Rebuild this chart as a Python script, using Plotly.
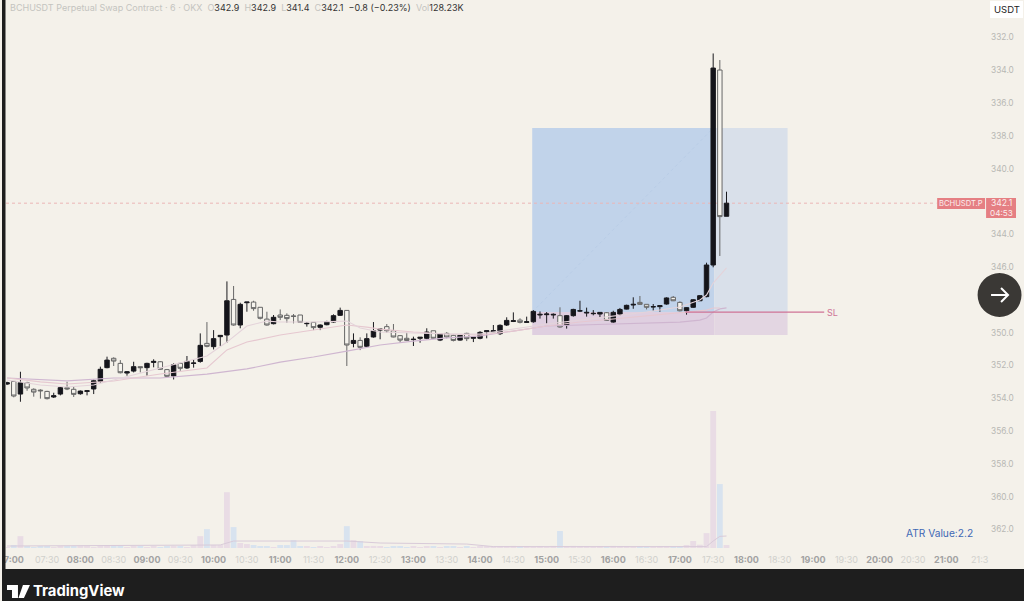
import pandas as pd
import plotly.graph_objects as go

DAY = "2024-01-01 "
bar_times = pd.date_range(DAY + "06:54", periods=109, freq="6min")

opens = [353.13,352.97,353.74,353.05,353.45,353.50,353.58,353.92,353.74,353.35,
         353.45,353.72,353.58,353.43,352.97,352.13,351.56,351.87,352.46,352.34,
         352.07,352.13,351.81,351.77,352.25,352.64,351.87,352.15,351.87,351.75,
         350.65,350.85,350.24,350.14,347.97,349.53,348.17,348.13,348.45,349.17,
         349.45,348.92,348.94,348.98,348.92,349.45,349.37,349.67,349.51,349.35,
         348.94,348.64,350.65,350.47,350.83,350.26,349.84,349.63,349.88,350.18,
         350.34,350.42,350.34,350.34,349.88,350.45,350.04,350.16,350.45,350.04,
         350.34,350.34,349.94,349.94,350.06,349.53,349.31,349.23,349.37,349.33,
         348.92,348.90,348.92,348.96,349.53,348.96,348.68,348.80,348.84,348.86,
         348.78,349.35,348.86,348.56,348.31,348.15,348.27,348.43,348.41,348.25,
         347.84,348.15,348.66,348.45,348.05,347.80,345.87,333.98,342.9]
highs = [353.19,353.94,354.21,353.54,353.90,354.02,354.07,353.98,353.82,353.50,
         353.92,353.78,353.82,353.74,353.05,352.17,352.03,352.48,352.62,352.42,
         352.42,352.62,352.11,352.27,352.68,352.85,352.32,352.21,352.13,351.83,
         350.89,351.02,350.81,350.61,349.57,349.73,348.72,348.66,349.19,349.57,
         349.49,349.23,349.39,349.43,349.39,349.63,349.84,349.84,349.55,349.39,
         348.98,352.03,350.89,351.06,350.87,350.30,350.40,350.00,350.28,350.61,
         350.51,350.81,350.61,350.40,350.38,350.51,350.34,350.53,350.49,350.51,
         350.57,350.40,350.34,349.96,350.14,349.59,349.35,349.43,349.39,349.39,
         349.14,349.43,349.14,349.69,349.75,349.02,348.74,349.02,348.94,349.06,
         349.27,349.39,348.98,348.58,348.54,348.31,348.58,348.66,348.72,348.29,
         348.07,348.70,348.90,348.49,348.07,347.84,346.01,345.32,342.9]
lows = [352.99,352.97,352.38,352.99,353.39,353.45,353.54,353.66,353.25,352.99,
        353.29,353.52,353.50,352.85,352.07,351.46,351.50,351.67,352.34,351.77,
        352.07,351.83,351.62,351.73,352.21,351.87,351.83,351.42,351.62,350.04,
        349.35,349.84,350.16,346.87,347.15,348.17,348.13,348.05,348.45,348.72,
        348.92,348.58,348.82,348.86,348.92,349.35,349.37,349.49,349.27,348.88,
        348.47,348.62,350.04,350.28,350.04,349.35,349.78,349.47,349.47,350.14,
        350.00,350.24,350.28,349.73,349.88,350.04,349.96,350.10,350.14,350.00,
        350.28,349.90,349.88,349.53,349.49,349.06,348.76,349.12,349.02,348.62,
        348.70,348.74,348.82,348.45,348.92,348.54,348.05,348.47,348.62,348.76,
        348.74,348.66,348.49,348.29,347.84,347.76,348.27,348.25,348.35,347.84,
        347.76,348.09,348.45,347.95,347.70,345.73,332.97,333.37,341.4]
closes = [353.05,353.86,353.05,353.37,353.62,353.54,354.02,353.84,353.35,353.43,
          353.76,353.56,353.54,352.93,352.23,351.67,351.73,352.44,352.38,352.07,
          352.13,351.87,351.75,352.23,352.66,351.95,352.17,351.75,351.85,350.77,
          350.83,350.36,350.16,348.05,349.53,348.27,348.13,348.53,349.12,349.53,
          349.06,349.06,349.14,349.00,349.37,349.43,349.69,349.53,349.33,348.96,
          348.64,350.75,350.47,350.89,350.36,349.88,349.78,349.88,350.26,350.45,
          350.47,350.40,350.28,349.96,350.34,350.06,350.26,350.47,350.16,350.36,
          350.28,349.98,349.88,349.88,349.55,349.25,349.27,349.37,349.33,348.70,
          348.88,348.86,348.88,349.65,348.96,348.58,348.66,348.76,348.82,348.76,
          349.25,348.76,348.58,348.33,348.27,348.27,348.45,348.41,348.35,347.88,
          348.05,348.66,348.47,347.99,347.74,345.87,333.86,342.92,342.1]
volumes_k = [40,130,510,45,40,50,45,40,50,45,
             85,90,45,40,85,90,80,45,40,85,
             45,40,50,40,45,90,45,40,125,510,
             810,130,125,2400,900,215,170,130,85,45,
             40,130,125,340,85,45,40,45,40,45,
             170,940,340,300,85,90,45,40,50,45,
             40,45,40,50,45,40,45,50,40,45,
             40,45,50,45,85,45,90,50,45,40,
             45,40,90,730,45,90,85,45,40,50,
             45,90,85,45,40,50,45,40,45,50,
             45,85,130,300,140,640,5890,2750,128.23]

slow_times = ["06:54","07:24","07:48","08:30","09:12","09:54","10:30","11:00","11:30","12:00","12:30",
              "13:00","13:30","14:00","14:30","15:00","15:30","16:00","16:30","17:00","17:18","17:24",
              "17:30","17:36","17:42"]
slow_ma = [352.76,352.88,352.94,352.76,352.76,352.52,352.21,351.79,351.48,351.12,350.75,
           350.51,350.32,350.20,349.90,349.59,349.53,349.47,349.41,349.35,349.23,349.10,
           348.74,348.55,348.49]
mid_times = ["06:54","07:24","07:48","08:30","09:12","09:54","10:12","10:30","11:00","11:30","12:00",
             "12:18","12:30","13:00","13:30","14:00","14:30","15:00","15:30","16:00","16:30","17:00",
             "17:18","17:24","17:30","17:36"]
mid_ma = [352.76,353.00,353.13,352.94,352.52,352.15,351.05,350.57,350.14,349.84,349.53,
          349.66,349.78,349.96,350.08,350.14,349.90,349.59,349.35,349.16,348.98,348.80,
          348.68,348.62,348.49,348.49]
fast_times = ["06:54","07:24","07:48","08:12","08:30","09:12","09:54","10:12","10:30","10:48","11:00",
              "11:30","12:00","12:12","12:30","13:00","13:30","14:00","14:30","15:00","15:30","16:00",
              "16:30","17:00","17:18","17:24","17:30","17:42"]
fast_ma = [352.88,353.19,353.31,353.19,352.88,352.15,351.42,350.57,349.59,349.29,349.35,
           349.35,349.29,349.71,349.96,350.02,350.08,350.08,349.78,349.47,349.23,348.98,
           348.74,348.43,348.00,347.70,346.97,346.05]
vol_ma_times = ["06:54","09:48","10:06","10:18","12:00","12:30","13:48","14:12","17:12","17:24","17:30","17:36","17:42"]
vol_ma = [86,100,130,300,300,215,170,60,50,60,300,500,516]

price_ticks = [332,334,336,338,340,344,346,350,352,354,356,358,360,362]
time_ticks = ["%02d:%02d" % (h, m) for h in range(7, 22) for m in (0, 30)]

last_price = 342.1
sl_price = 348.74
target_price = 337.52
stop_price = 350.14
pos_start, pos_split, pos_end = "14:47", "17:31", "18:37"
sl_line_start, sl_line_end = "17:05", "19:10"
price_line_end = "20:51"

BG = "#f4f1ea"
DARK = "#1e1e1e"
def T(s):
    return DAY + s + ":00"
def px(x):
    return x / 1024
def py(y):
    return 1 - y / 601

def tick_text(t):
    if t == "07:00":
        t2 = "7:00"
    elif t == "21:30":
        t2 = "21:3"
    else:
        t2 = t
    if t.endswith(":00"):
        return '<span style="color:#a2a2a2"><b>%s</b></span>' % t2
    return '<span style="color:#d0d0cc">%s</span>' % t2

vol_colors = ["#d8e3ef" if c >= o else "#e9dce5" for o, c in zip(opens, closes)]

fig = go.Figure()
fig.add_trace(go.Bar(x=bar_times, y=volumes_k, yaxis="y2", marker=dict(color=vol_colors, line_width=0),
                     showlegend=False, hoverinfo="skip"))
fig.add_trace(go.Scatter(x=[T(s) for s in vol_ma_times], y=vol_ma, yaxis="y2", mode="lines",
                         line=dict(color="#d9cbd9", width=1), showlegend=False, hoverinfo="skip"))
for t, v, c, w in [(slow_times, slow_ma, "#cfb6d0", 1.2), (mid_times, mid_ma, "#e6c8d0", 1.1), (fast_times, fast_ma, "#e4d3da", 1.1)]:
    fig.add_trace(go.Scatter(x=[T(s) for s in t], y=v, mode="lines", line=dict(color=c, width=w),
                             showlegend=False, hoverinfo="skip"))
fig.add_trace(go.Scatter(x=[T(sl_line_start), T(sl_line_end)], y=[sl_price, sl_price], mode="lines",
                         line=dict(color="#cf7396", width=1.3), showlegend=False, hoverinfo="skip"))
fig.add_trace(go.Candlestick(x=bar_times, open=opens, high=highs, low=lows, close=closes,
                             increasing=dict(line=dict(color="#666666", width=1), fillcolor="#f6f4ee"),
                             decreasing=dict(line=dict(color="#1a1a1f", width=1), fillcolor="#14141a"),
                             whiskerwidth=0, showlegend=False))

def rect(x0, x1, y0, y1, col):
    return dict(type="rect", xref="x", yref="y", x0=T(x0), x1=T(x1), y0=y0, y1=y1,
                fillcolor=col, line_width=0, layer="below")

def prect(x0, y0, x1, y1, col, layer="above"):
    return dict(type="rect", xref="paper", yref="paper", x0=px(x0), x1=px(x1), y0=py(y0), y1=py(y1),
                fillcolor=col, line_width=0, layer=layer)

def ppath(points, col, width=0, fill=None):
    d = " ".join("%s %.5f %.5f" % (c, px(x), py(y)) if c != "Z" else "Z" for c, x, y in points)
    return dict(type="path", xref="paper", yref="paper", path=d, layer="above",
                line=dict(color=col, width=width), fillcolor=fill)

shapes = [
    rect(pos_start, pos_split, target_price, sl_price, "#c1d3ea"),
    rect(pos_split, pos_end, target_price, sl_price, "#d9e0ea"),
    rect(pos_start, pos_split, sl_price, stop_price, "#dfcfe0"),
    rect(pos_split, pos_end, sl_price, stop_price, "#e3d6e2"),
    dict(type="line", xref="x", yref="y", x0=T(pos_start), x1=T("17:30"), y0=sl_price, y1=target_price,
         line=dict(color="#b9cde7", width=1, dash="dot"), layer="below"),
    dict(type="line", xref="x", yref="y", x0=T("06:53"), x1=T(price_line_end), y0=last_price, y1=last_price,
         line=dict(color="#ebb5b6", width=1, dash="dot"), layer="below"),
    prect(0, 0, 3.5, 601, DARK),
    prect(0, 569, 1024, 601, DARK),
    prect(990, 1, 1023, 18, "#ffffff"),
    prect(937, 198, 985, 209, "#e57f83"),
    prect(986, 198, 1016, 218, "#e57f83"),
    dict(type="circle", xref="paper", yref="paper", x0=px(977.5), x1=px(1021.5), y0=py(273), y1=py(317),
         fillcolor="#3a3835", line_width=0, layer="above"),
    ppath([("M", 991, 295), ("L", 1008, 295), ("M", 1001, 288), ("L", 1008, 295), ("L", 1001, 302)], "#ffffff", 2),
    ppath([("M", 5, 585), ("L", 16, 585), ("L", 16, 598), ("L", 10, 598), ("L", 10, 590), ("L", 5, 590), ("Z", 0, 0)], "#ffffff", 0, "#ffffff"),
    ppath([("M", 21, 585), ("L", 28, 585), ("L", 22, 598), ("L", 16.5, 598), ("Z", 0, 0)], "#ffffff", 0, "#ffffff"),
]

g = '<span style="color:#c4c4c0">%s</span>'
d = '<span style="color:#333333">%s</span>'
sp = "&nbsp;"
header = (g % ("BCHUSDT Perpetual Swap Contract · 6 · OKX" + sp + sp + "O") + d % "342.9" + g % (sp + sp + "H") + d % "342.9" +
          g % (sp + sp + "L") + d % "341.4" + g % (sp + sp + "C") + d % "342.1" + d % (sp + sp + "−0.8 (−0.23%)") + g % (sp + sp + "Vol") + d % "128.23K")

def note(x, y, text, size, color, anchor="left", font="Inter"):
    return dict(xref="paper", yref="paper", x=px(x), y=py(y), text=text, showarrow=False, xanchor=anchor,
                yanchor="middle", font=dict(size=size, color=color, family=font), align=anchor)

annotations = [
    note(6, 7.5, header, 9, "#333333"),
    note(1006.5, 9.5, "USDT", 9.5, "#222222", "center"),
    note(961, 203.5, "BCHUSDT.P", 7.6, "#fbeeee", "center"),
    note(1001, 203, "342.1", 8.6, "#fbeeee", "center"),
    note(1001, 213, "04:53", 8.2, "#fbeeee", "center"),
    note(825, 312, "SL", 9, "#cf7396"),
    note(904, 533, "ATR Value:2.2", 10.2, "#3f68b5"),
    note(29, 591, "<b>TradingView</b>", 14.8, "#ffffff"),
]

fig.update_layout(
    width=1024, height=601, margin=dict(l=0, r=0, t=0, b=0),
    paper_bgcolor=BG, plot_bgcolor=BG, showlegend=False, hovermode=False,
    font=dict(family="Inter", size=9, color="#b8b8b4"), barmode="overlay", bargap=0.12,
    boxgap=0.05, boxmode="overlay",
    xaxis=dict(type="date", domain=[px(4), px(990)], range=[T("06:53") , DAY + "21:39:24"],
               rangeslider=dict(visible=False), showgrid=False, zeroline=False, showline=False,
               tickmode="array", tickvals=[T(t) for t in time_ticks], ticktext=[tick_text(t) for t in time_ticks],
               tickangle=0, ticks="", ticklabelstandoff=3, tickfont=dict(size=9)),
    yaxis=dict(domain=[py(550), 1], range=[363.25, 329.71], side="right", showgrid=False, zeroline=False,
               showline=False, tickmode="array", tickvals=price_ticks, ticktext=["%.1f" % v for v in price_ticks],
               ticks="", tickfont=dict(size=8.3, color="#b8b8b4")),
    yaxis2=dict(domain=[py(550), 1], overlaying="y", range=[-86, 23564], visible=False, fixedrange=True),
    shapes=shapes, annotations=annotations,
)
fig.write_html("out.html", config=dict(displayModeBar=False),
               post_script="document.documentElement.style.margin='0';document.body.style.margin='0';document.body.style.overflow='hidden';")
